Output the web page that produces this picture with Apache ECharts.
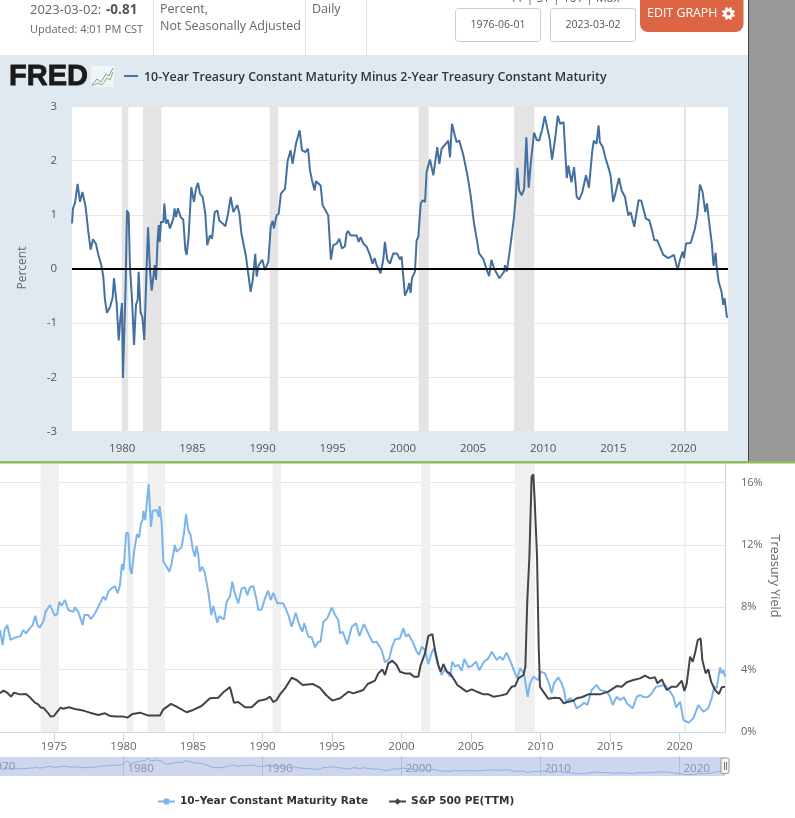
<!DOCTYPE html>
<html><head><meta charset="utf-8">
<style>html,body{margin:0;padding:0;background:#fff;overflow:hidden}#c{width:795px;height:818px}</style>
<script src="https://cdn.jsdelivr.net/npm/echarts@6/dist/echarts.min.js"></script>
</head><body><div id="c"></div>
<script>
const spreadDates=[1976.42,1976.49,1976.63,1976.82,1976.99,1977.16,1977.39,1977.58,1977.75,1977.92,1978.13,1978.30,1978.51,1978.65,1978.77,1978.91,1979.13,1979.32,1979.41,1979.60,1979.75,1979.86,1979.98,1980.05,1980.15,1980.24,1980.34,1980.46,1980.55,1980.70,1980.84,1980.98,1981.10,1981.17,1981.31,1981.43,1981.57,1981.74,1981.84,1981.98,1982.10,1982.22,1982.31,1982.41,1982.52,1982.60,1982.67,1982.76,1982.93,1983.00,1983.12,1983.24,1983.40,1983.64,1983.73,1983.83,1983.97,1984.16,1984.35,1984.50,1984.59,1984.73,1984.92,1985.11,1985.25,1985.40,1985.54,1985.73,1985.92,1986.06,1986.25,1986.40,1986.59,1986.78,1986.92,1987.16,1987.35,1987.54,1987.73,1987.92,1988.06,1988.20,1988.35,1988.49,1988.68,1988.82,1988.96,1989.15,1989.30,1989.48,1989.58,1989.72,1989.98,1990.17,1990.41,1990.58,1990.72,1990.81,1991.00,1991.15,1991.31,1991.60,1991.79,1991.91,1992.00,1992.14,1992.38,1992.50,1992.64,1992.81,1993.05,1993.24,1993.38,1993.52,1993.71,1993.80,1994.14,1994.28,1994.68,1994.87,1995.04,1995.28,1995.47,1995.66,1995.87,1995.99,1996.09,1996.28,1996.71,1996.85,1996.99,1997.18,1997.42,1997.65,1997.84,1997.99,1998.13,1998.27,1998.41,1998.60,1998.72,1998.89,1999.08,1999.32,1999.60,1999.79,1999.91,2000.03,2000.15,2000.32,2000.46,2000.55,2000.65,2000.86,2000.98,2001.10,2001.27,2001.41,2001.58,2001.69,2001.93,2002.17,2002.45,2002.60,2002.76,2003.24,2003.36,2003.50,2003.71,2003.83,2004.02,2004.31,2004.60,2004.83,2005.07,2005.26,2005.43,2005.74,2005.98,2006.15,2006.31,2006.50,2006.88,2007.21,2007.28,2007.40,2007.56,2007.73,2007.92,2008.06,2008.16,2008.28,2008.47,2008.64,2008.80,2008.87,2008.97,2009.11,2009.23,2009.35,2009.54,2009.71,2009.94,2010.11,2010.25,2010.46,2010.63,2010.85,2011.04,2011.21,2011.45,2011.54,2011.68,2011.80,2012.01,2012.20,2012.39,2012.56,2012.79,2012.91,2013.05,2013.26,2013.50,2013.61,2013.80,2013.95,2014.04,2014.25,2014.46,2014.63,2014.80,2014.99,2015.14,2015.40,2015.59,2015.83,2016.06,2016.23,2016.49,2016.61,2016.80,2016.99,2017.32,2017.56,2017.72,2017.92,2018.13,2018.32,2018.56,2018.92,2019.32,2019.58,2019.75,2019.94,2020.03,2020.18,2020.51,2020.79,2020.98,2021.17,2021.36,2021.55,2021.67,2021.88,2022.02,2022.14,2022.29,2022.36,2022.50,2022.71,2022.83,2022.93,2023.09,2023.17];
const spreadValues=[0.84,1.12,1.21,1.57,1.24,1.42,1.15,0.69,0.36,0.55,0.46,0.26,0.07,-0.14,-0.57,-0.81,-0.70,-0.52,-0.17,-0.63,-1.32,-0.94,-0.63,-2.01,-1.98,-0.32,1.08,1.02,0.04,-0.57,-1.40,-0.66,-0.57,-0.05,-0.81,-0.88,-1.31,0.04,0.77,-0.02,-0.40,-0.14,0.07,-0.20,0.53,0.81,0.50,0.87,0.87,1.21,0.84,0.91,0.75,0.93,1.12,0.96,1.12,0.96,0.91,0.35,0.26,0.59,1.51,1.24,1.48,1.59,1.39,1.33,1.02,0.44,0.62,0.56,1.05,1.08,0.89,0.84,0.79,1.02,1.33,1.05,1.04,1.18,1.02,0.66,0.41,0.23,-0.05,-0.42,-0.20,0.28,-0.14,0.07,0.17,-0.02,0.13,0.78,0.89,0.75,0.99,1.02,1.39,1.48,2.00,1.97,2.19,1.94,2.31,2.34,2.56,2.19,2.16,2.22,1.82,1.64,1.45,1.62,1.54,1.18,0.99,0.17,0.44,0.47,0.56,0.38,0.42,0.66,0.70,0.62,0.62,0.50,0.59,0.47,0.41,0.26,0.10,0.20,0.07,0.07,-0.08,0.17,0.50,0.17,0.10,0.29,0.28,0.18,0.23,-0.14,-0.49,-0.39,-0.26,-0.44,-0.17,-0.05,0.53,0.59,1.21,1.27,1.24,1.79,2.02,1.73,2.25,1.94,2.22,2.37,2.06,2.68,2.46,2.34,2.37,2.10,1.73,1.36,0.84,0.56,0.29,0.18,-0.02,-0.13,0.17,0.01,-0.17,-0.05,0.07,-0.05,0.23,0.56,0.96,1.39,1.87,1.45,1.36,1.48,2.43,2.00,1.50,1.94,1.91,2.52,2.38,2.37,2.59,2.82,2.81,2.40,2.02,2.40,2.83,2.68,2.71,2.31,1.68,1.91,1.60,1.88,1.33,1.28,1.42,1.42,1.73,1.50,2.19,2.37,2.31,2.65,2.34,2.25,2.03,1.89,1.73,1.24,1.39,1.68,1.45,1.33,0.99,1.05,0.78,0.79,1.27,1.26,0.93,0.90,0.75,0.53,0.53,0.41,0.26,0.20,0.26,-0.02,0.17,0.32,0.20,0.47,0.48,0.72,0.99,1.56,1.42,1.05,1.21,0.75,0.47,0.06,0.30,0.04,-0.23,-0.42,-0.66,-0.54,-0.89,-0.88];
const yieldDates=[1971.12,1971.31,1971.45,1971.64,1971.88,1972.19,1972.60,1972.79,1972.99,1973.27,1973.47,1973.66,1973.82,1973.97,1974.23,1974.40,1974.71,1975.07,1975.24,1975.38,1975.55,1975.79,1976.03,1976.39,1976.51,1976.75,1977.06,1977.18,1977.47,1977.64,1977.95,1978.31,1978.55,1978.72,1978.91,1979.15,1979.39,1979.58,1979.75,1979.89,1980.01,1980.20,1980.35,1980.47,1980.59,1980.78,1980.97,1981.12,1981.26,1981.38,1981.43,1981.57,1981.81,1981.98,1982.10,1982.39,1982.55,1982.60,1982.75,1982.87,1983.11,1983.30,1983.44,1983.70,1983.82,1984.18,1984.35,1984.50,1984.66,1984.83,1984.98,1985.14,1985.26,1985.38,1985.50,1985.67,1985.86,1986.10,1986.32,1986.46,1986.75,1986.87,1987.23,1987.42,1987.66,1987.83,1987.97,1988.26,1988.50,1988.74,1988.91,1989.10,1989.34,1989.58,1989.70,1989.94,1990.18,1990.40,1990.59,1990.78,1991.07,1991.50,1991.86,1992.10,1992.39,1992.65,1992.87,1993.01,1993.30,1993.54,1993.78,1994.02,1994.18,1994.38,1994.66,1994.98,1995.22,1995.46,1995.58,1995.77,1996.10,1996.42,1996.73,1996.97,1997.30,1997.61,1997.93,1998.21,1998.57,1998.81,1999.12,1999.29,1999.53,1999.89,2000.13,2000.32,2000.49,2000.80,2001.09,2001.26,2001.45,2001.69,2001.93,2002.17,2002.34,2002.58,2002.89,2003.13,2003.49,2003.66,2003.86,2004.09,2004.33,2004.52,2004.81,2005.05,2005.36,2005.60,2005.93,2006.25,2006.49,2006.85,2007.09,2007.28,2007.56,2007.85,2008.17,2008.33,2008.53,2008.81,2009.08,2009.24,2009.48,2009.84,2010.01,2010.32,2010.61,2010.80,2010.97,2011.28,2011.52,2011.69,2011.83,2012.12,2012.36,2012.60,2012.96,2013.13,2013.37,2013.68,2014.04,2014.28,2014.76,2015.00,2015.19,2015.48,2015.72,2016.01,2016.20,2016.63,2016.92,2017.16,2017.47,2017.76,2018.00,2018.31,2018.60,2018.96,2019.32,2019.56,2019.75,2020.04,2020.28,2020.64,2021.00,2021.35,2021.71,2022.07,2022.31,2022.50,2022.67,2022.91,2023.03,2023.15,2023.27];
const yieldValues=[6.54,5.58,6.54,6.86,5.90,6.05,6.15,6.54,6.32,6.65,6.86,7.46,6.86,6.69,7.07,7.71,8.14,7.46,7.56,8.35,8.10,8.46,7.82,7.71,7.99,7.71,6.86,7.50,7.50,7.24,7.60,8.25,8.68,8.46,9.00,9.21,9.36,8.89,9.42,10.77,10.38,12.78,12.74,10.50,10.13,11.67,12.69,12.48,13.38,13.59,14.19,13.59,15.90,13.16,14.17,14.23,13.80,14.49,13.38,10.92,10.60,10.28,10.70,11.99,11.56,11.84,12.74,13.97,12.95,12.63,11.77,11.24,11.92,11.35,10.28,10.60,10.17,9.00,7.50,8.08,7.00,7.43,7.22,8.35,8.68,9.64,9.00,8.25,9.21,9.27,8.78,9.27,9.36,8.46,7.82,7.86,8.57,9.06,8.46,8.93,8.25,8.25,7.50,6.75,7.65,6.86,6.43,6.97,6.11,6.07,5.43,5.79,5.79,7.07,7.29,7.97,7.50,7.18,6.32,6.43,5.62,6.75,6.97,6.15,6.92,6.32,5.73,5.79,5.26,4.47,4.68,5.36,5.94,6.00,6.65,6.11,6.28,5.79,5.15,4.94,5.47,5.26,4.36,5.09,5.36,4.40,3.65,4.08,3.55,4.51,4.19,4.30,3.93,4.68,4.15,4.23,4.51,3.97,4.51,4.72,5.15,4.62,4.83,4.62,5.09,4.51,3.76,3.44,4.08,3.76,2.26,3.12,3.55,3.33,3.87,3.76,3.12,2.48,3.12,3.50,3.12,2.69,1.94,2.16,2.05,1.52,1.73,1.88,1.73,2.69,3.01,2.69,2.58,2.26,1.73,2.26,2.05,2.22,1.84,1.52,2.26,2.37,2.22,2.26,2.48,2.91,2.95,3.01,2.59,2.26,1.58,1.94,0.77,0.60,0.88,1.73,1.30,1.52,2.16,2.91,2.80,4.15,3.76,3.97,3.55];
const peDates=[1971.12,1971.36,1971.64,1971.91,1972.13,1972.55,1972.99,1973.27,1973.63,1973.87,1974.04,1974.28,1974.60,1974.76,1975.00,1975.24,1975.48,1975.67,1976.08,1976.51,1977.11,1977.59,1978.19,1978.67,1979.03,1979.51,1979.99,1980.28,1980.66,1981.19,1981.79,1982.63,1982.87,1983.42,1983.82,1984.54,1985.02,1985.62,1986.22,1986.82,1987.23,1987.66,1987.95,1988.26,1988.74,1989.22,1989.70,1990.30,1990.54,1990.78,1991.02,1991.26,1991.62,1992.10,1992.46,1992.89,1993.61,1994.14,1994.57,1995.02,1995.58,1996.18,1996.54,1997.25,1997.57,1998.09,1998.33,1998.62,1998.81,1999.05,1999.34,1999.65,1999.89,2000.01,2000.25,2000.61,2000.90,2001.21,2001.38,2001.69,2001.93,2002.22,2002.41,2002.65,2002.82,2003.01,2003.25,2003.49,2003.73,2004.02,2004.45,2004.69,2005.05,2005.53,2005.89,2006.25,2006.61,2007.09,2007.56,2007.93,2008.17,2008.41,2008.77,2008.91,2009.05,2009.20,2009.36,2009.48,2009.58,2009.75,2009.87,2009.96,2010.20,2010.56,2011.04,2011.40,2011.69,2012.00,2012.36,2012.60,2012.96,2013.44,2014.28,2014.88,2015.48,2015.84,2016.20,2016.68,2017.16,2017.52,2017.88,2018.24,2018.41,2018.72,2019.08,2019.44,2019.80,2020.16,2020.35,2020.52,2020.76,2020.95,2021.12,2021.31,2021.52,2021.64,2021.78,2021.88,2022.07,2022.27,2022.55,2022.84,2023.03,2023.27];
const peValues=[18.6,19.9,18.9,17.0,18.9,18.1,18.3,16.7,14.1,13.3,11.9,11.4,9.0,7.4,7.7,9.8,11.7,11.2,11.9,11.1,10.3,9.3,8.2,9.0,7.7,7.4,7.4,6.9,8.7,9.3,7.9,7.9,10.9,13.5,12.2,9.5,10.6,12.5,16.2,16.5,19.4,21.6,14.1,14.4,11.9,11.9,14.9,15.9,17.0,14.4,15.4,18.1,21.0,26.1,25.0,22.6,23.1,21.2,17.8,15.1,16.2,19.4,18.6,20.2,23.1,24.7,28.2,30.1,27.4,33.0,34.3,32.2,29.0,29.8,28.2,28.2,26.6,26.6,32.2,37.8,46.2,47.1,39.4,32.2,29.0,32.7,29.0,28.2,25.8,22.6,20.5,19.4,20.5,19.1,18.1,18.1,17.0,17.5,18.3,21.8,22.1,25.8,27.4,31.4,63.5,84.3,122.8,124.0,111.5,84.3,41.0,21.8,19.4,16.0,16.5,16.2,13.8,14.6,15.0,16.2,16.7,18.1,18.1,19.4,22.1,21.8,23.9,25.0,25.8,27.1,25.8,26.3,23.4,25.3,20.2,21.8,21.8,24.7,19.7,23.4,36.2,33.8,38.1,44.2,45.0,34.6,35.4,28.2,30.1,24.2,20.2,18.3,21.5,21.8];
const topRecessions=[[1979.96,1980.43],[1981.48,1982.79],[1990.51,1991.12],[2001.12,2001.84],[2007.92,2009.37],[2020.03,2020.18]];
const bottomRecessions=[[1974.04,1975.36],[1980.23,1980.71],[1981.74,1982.99],[1990.73,1991.33],[2001.40,2002.07],[2008.17,2009.60],[2020.32,2020.47]];
const topTicks=[1980,1985,1990,1995,2000,2005,2010,2015,2020];
const bottomTicks=[1975,1980,1985,1990,1995,2000,2005,2010,2015,2020];
const navTicks=[1980,1990,2000,2010,2020];
const yieldName='10–Year Constant Maturity Rate', peName='S&P 500 PE(TTM)';
const topTitle='10-Year Treasury Constant Maturity Minus 2-Year Treasury Constant Maturity';

const zip=(a,b)=>a.map((x,i)=>[x,b[i]]);
const F='"Open Sans"';
const txt=(x,y,text,o={})=>({type:'text',x,y,silent:true,z:5,style:Object.assign({text,fill:'#555',font:'12px '+F,textVerticalAlign:'middle'},o)});
const rect=(x,y,w,h,fill,o={})=>({type:'rect',silent:true,z:o.z===undefined?-1:o.z,shape:{x,y,width:w,height:h,r:o.r||0},style:{fill,stroke:o.stroke||null,lineWidth:o.lw||1}});
const vline=(x,y1,y2,c,z)=>({type:'line',silent:true,z:z||1,shape:{x1:x,y1,x2:x,y2},style:{stroke:c,lineWidth:1}});
const poly=(pts,c,w)=>({type:'polyline',silent:true,z:5,shape:{points:pts},style:{stroke:c,lineWidth:w,fill:null}});

const graphics=[
 rect(0,55,748,407,'#e1e9f0'),
 rect(748,0,47,461,'#999999'),
 vline(748.5,0,461,'#444'),
 rect(0,461,795,2.5,'#8fbc5f',{z:6}),
 vline(153.5,0,55,'#e1e6ec'),vline(305.5,0,55,'#e1e6ec'),vline(366.5,0,55,'#e1e6ec'),
 txt(30,10,'2023-03-02:',{fill:'#666',font:'13px '+F}),
 txt(106,10,'-0.81',{fill:'#555',font:'bold 13.5px '+F}),
 txt(30,30,'Updated: 4:01 PM CST',{fill:'#666',font:'11px '+F}),
 txt(160,9,'Percent,',{fill:'#666',font:'12.5px '+F}),
 txt(160,26,'Not Seasonally Adjusted',{fill:'#666',font:'12.5px '+F}),
 txt(312,9,'Daily',{fill:'#666',font:'12.5px '+F}),
 txt(510,-1,'1Y | 5Y | 10Y | Max',{fill:'#666',font:'12px '+F}),
 rect(455.5,8.5,85,33,'#fff',{stroke:'#ccc',r:3,z:1}),
 rect(550.5,8.5,85,33,'#fff',{stroke:'#ccc',r:3,z:1}),
 txt(498,25,'1976-06-01',{fill:'#555',font:'10.5px '+F,textAlign:'center'}),
 txt(593,25,'2023-03-02',{fill:'#555',font:'10.5px '+F,textAlign:'center'}),
 rect(640,-8,103.5,40,'#dd6543',{r:8,z:1}),
 txt(647,13.5,'EDIT GRAPH',{fill:'#fff',font:'12.4px '+F}),
 {type:'ring',silent:true,z:5,shape:{cx:728.5,cy:13.5,r:5,r0:2},style:{fill:'#fff'}},
 txt(9,77,'FRED',{fill:'#1a1a1a',font:'bold 29px "Liberation Sans"',stroke:'#1a1a1a',lineWidth:0.8}),
 rect(91,66,23,21,'#f2f5f7',{z:4}),
 poly([[92,85],[97,79],[101,82],[106,74],[109,76],[113,68]],'#7f9f9f',1),
 poly([[92,86],[98,83],[102,85],[107,78],[110,80],[113,72]],'#8fae6f',1),
 poly([[124,76],[138,76]],'#4572a7',2),
 txt(144,77,topTitle,{fill:'#333',font:'600 12.4px '+F}),
 Object.assign(txt(23,268,'Percent',{fill:'#666',font:'12px '+F,textAlign:'center'}),{rotation:Math.PI/2}),
 Object.assign(txt(775,576,'Treasury Yield',{fill:'#666',font:'12.6px '+F,textAlign:'center'}),{rotation:-Math.PI/2}),
 txt(-11,767,'1970',{fill:'#8b93a8',font:'11.5px '+F}),
 rect(721,758,8,15.5,'#f2f2f2',{stroke:'#999',r:1,z:7}),
 vline(724.5,762,770,'#777',8),vline(726.5,762,770,'#777',8)
];
for(let a=0;a<8;a++){const t=a*Math.PI/4+Math.PI/8,c=Math.cos(t),s=Math.sin(t);
 graphics.push({type:'line',silent:true,z:5,shape:{x1:728.5+4*c,y1:13.5+4*s,x2:728.5+6.5*c,y2:13.5+6.5*s},style:{stroke:'#fff',lineWidth:2.2}});}

const areas=r=>r.map(d=>[{xAxis:d[0]},{xAxis:d[1]}]);
const option={
 animation:false,backgroundColor:'transparent',textStyle:{fontFamily:'Open Sans'},
 graphic:{elements:graphics},
 legend:{data:[yieldName,peName],left:152,top:791,itemWidth:17,itemHeight:8,itemGap:20,
   textStyle:{fontFamily:'"DejaVu Sans"',fontWeight:'bold',fontSize:10.5,color:'#333'},selectedMode:false},
 grid:[
  {left:72,right:67,top:106.5,height:325,show:true,backgroundColor:'#fff',borderWidth:0},
  {left:0,right:70,top:463,height:269,show:false},
  {left:0,right:70,top:757,height:19,show:true,backgroundColor:'#cdd6ec',borderWidth:0}
 ],
 xAxis:[
  {type:'value',gridIndex:0,min:1976.42,max:2023.17,splitLine:{show:false},axisLine:{show:false},
   axisTick:{show:false,customValues:topTicks},
   axisLabel:{customValues:topTicks,formatter:v=>String(v),color:'#555',fontSize:11.5,margin:11,fontFamily:'Open Sans'}},
  {type:'value',gridIndex:1,min:1971.12,max:2023.27,splitLine:{show:false},
   axisLine:{show:true,onZero:false,lineStyle:{color:'#ccd6eb'}},
   axisTick:{show:true,length:10,customValues:bottomTicks,lineStyle:{color:'#ccd6eb'}},
   axisLabel:{customValues:bottomTicks,formatter:v=>String(v),color:'#666',fontSize:11.5,margin:9,fontFamily:'Open Sans'}},
  {type:'value',gridIndex:2,min:1971.12,max:2023.27,splitLine:{show:false},axisLine:{show:false},
   axisTick:{show:true,inside:true,length:19,customValues:navTicks,lineStyle:{color:'#b3bdd6'}},
   axisLabel:{customValues:navTicks,formatter:v=>String(v),color:'#8b93a8',fontSize:11.5,margin:-13,align:'left',padding:[0,0,0,4],fontFamily:'Open Sans'}}
 ],
 yAxis:[
  {type:'value',gridIndex:0,min:-3,max:3,interval:1,axisLine:{show:false},axisTick:{show:false},
   splitLine:{lineStyle:{color:'#e6e6e6'}},axisLabel:{color:'#555',fontSize:11.5,margin:15,fontFamily:'Open Sans'}},
  {type:'value',gridIndex:1,position:'right',min:0,max:17.25,interval:4,
   axisLine:{show:true,lineStyle:{color:'#ccd6eb'}},axisTick:{show:false},
   splitLine:{lineStyle:{color:'#e6e6e6'},showMaxLine:false},
   axisLabel:{showMaxLabel:false,formatter:'{value}%',color:'#666',fontSize:11,margin:16,fontFamily:'Open Sans'}},
  {type:'value',gridIndex:1,position:'left',min:0,max:129.4,show:false,splitLine:{show:false}},
  {type:'value',gridIndex:2,min:-0.7,max:17,show:false,splitLine:{show:false}}
 ],
 series:[
  {type:'line',name:'T10Y2Y',xAxisIndex:0,yAxisIndex:0,data:zip(spreadDates,spreadValues),showSymbol:false,silent:true,
   lineStyle:{color:'#44709f',width:2},itemStyle:{color:'#44709f'},z:3,
   markArea:{silent:true,itemStyle:{color:'#e4e4e4'},data:areas(topRecessions)},
   markLine:{silent:true,symbol:'none',label:{show:false},lineStyle:{color:'#000',width:2,type:'solid'},data:[{yAxis:0}],z:4}},
  {type:'line',name:yieldName,xAxisIndex:1,yAxisIndex:1,data:zip(yieldDates,yieldValues),symbol:'circle',showSymbol:false,silent:true,
   lineStyle:{color:'#7cb5ec',width:2},itemStyle:{color:'#7cb5ec'},z:3,
   markArea:{silent:true,itemStyle:{color:'#f0f0f0'},data:areas(bottomRecessions)}},
  {type:'line',name:peName,xAxisIndex:1,yAxisIndex:2,data:zip(peDates,peValues),symbol:'diamond',showSymbol:false,silent:true,
   lineStyle:{color:'#434348',width:2},itemStyle:{color:'#434348'},z:4},
  {type:'line',name:'navigator',xAxisIndex:2,yAxisIndex:3,data:zip(yieldDates,yieldValues),showSymbol:false,silent:true,
   lineStyle:{color:'#8fb0e0',width:1},itemStyle:{color:'#8fb0e0'},z:3}
 ]
};
const chart=echarts.init(document.getElementById('c'),null,{renderer:'canvas'});
chart.setOption(option);
</script></body></html>
